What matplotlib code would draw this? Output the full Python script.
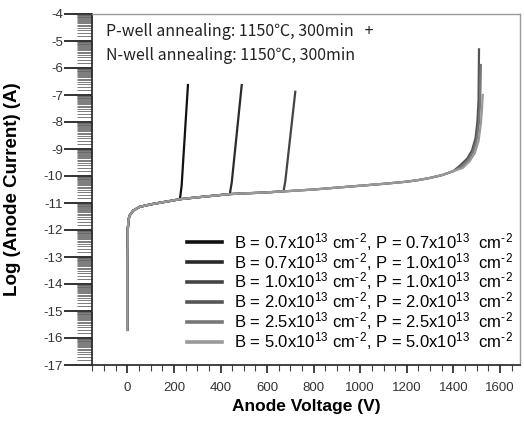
"""Anode I-V breakdown curves for several B/P implant doses."""

import numpy as np
import matplotlib

matplotlib.use("Agg")
import matplotlib.pyplot as plt

plt.rcParams["font.family"] = ["Liberation Sans", "DejaVu Sans"]
plt.rcParams["mathtext.default"] = "regular"

# shared leakage branch (V, log10 I)
leak_v = [0, 0, 2, 5, 11, 25, 54, 100, 140, 180, 225, 300, 370, 440, 510, 570,
          671, 800, 900, 1000, 1100, 1200, 1250, 1300, 1350, 1400]
leak_i = [-15.7, -13.2, -11.95, -11.6, -11.44, -11.28, -11.14, -11.05, -10.99,
          -10.93, -10.86, -10.79, -10.73, -10.67, -10.64, -10.62, -10.57, -10.5,
          -10.43, -10.36, -10.29, -10.21, -10.15, -10.07, -9.97, -9.82]

# breakdown branches
bd1_v = [228, 233, 260]
bd1_i = [-10.7, -10.35, -6.63]
bd2_v = [442, 448, 491]
bd2_i = [-10.55, -10.25, -6.63]
bd3_v = [672, 678, 721]
bd3_i = [-10.5, -10.2, -6.88]
bd4_v = [1430, 1460, 1480, 1495, 1503, 1508, 1510]
bd4_i = [-9.6, -9.35, -9.05, -8.6, -8.0, -7.2, -5.31]
bd5_v = [1435, 1465, 1485, 1500, 1510, 1515, 1518]
bd5_i = [-9.65, -9.4, -9.1, -8.65, -8.0, -7.2, -5.89]
bd6_v = [1440, 1470, 1492, 1508, 1518, 1523, 1526]
bd6_i = [-9.7, -9.45, -9.15, -8.7, -8.05, -7.5, -7.0]

# cut-off index on the leakage branch for each curve
cut = [10, 13, 16, 25, 25, 25]
branches = [(bd1_v, bd1_i), (bd2_v, bd2_i), (bd3_v, bd3_i),
            (bd4_v, bd4_i), (bd5_v, bd5_i), (bd6_v, bd6_i)]

dose_b = ["0.7", "0.7", "1.0", "2.0", "2.5", "5.0"]
dose_p = ["0.7", "1.0", "1.0", "2.0", "2.5", "5.0"]
colors = ["#111111", "#2a2a2a", "#444444", "#555555", "#777777", "#999999"]

x_ticks = list(range(0, 1601, 200))
y_ticks = list(range(-17, -3))

fig = plt.figure(figsize=(5.24, 4.25), dpi=100)
ax = fig.add_axes([92 / 524, 60 / 425, 428 / 524, 351 / 425])

for k in range(6):
    bv, bi = branches[k]
    v = leak_v[: cut[k] + 1] + bv
    i = leak_i[: cut[k] + 1] + bi
    lbl = ("B = %sx10$^{13}$ cm$^{\u2010\u200a2}$, P = %sx10$^{13}$  cm$^{\u2010\u200a2}$"
           % (dose_b[k], dose_p[k]))
    ax.plot(v, i, color=colors[k], lw=1.6, label=lbl, solid_joinstyle="round")

ax.set_xlim(-152, 1686)
ax.set_ylim(-17, -4)

ax.set_xticks(x_ticks)
ax.set_xticklabels([str(t) for t in x_ticks])
ax.set_xticks(np.arange(-150, 1690, 50), minor=True)
ax.set_yticks(y_ticks)
ax.set_yticklabels([str(t) for t in y_ticks])
minor_y = [n + np.log10(m) for n in range(-17, -4) for m in np.arange(1.5, 10, 0.5)]
ax.set_yticks(minor_y, minor=True)

ax.tick_params(axis="x", which="major", length=6, width=1.2, colors="#222222",
               labelsize=9.5, labelcolor="#333333", pad=6)
ax.tick_params(axis="x", which="minor", length=4, width=0.8, colors="#444444")
ax.tick_params(axis="y", which="major", length=20, width=1.3, colors="#222222",
               labelsize=9.5, labelcolor="#333333", pad=1)
ax.tick_params(axis="y", which="minor", length=11, width=0.6, colors="#666666")

for side in ("left", "bottom"):
    ax.spines[side].set_color("#222222")
    ax.spines[side].set_linewidth(1.2)
for side in ("top", "right"):
    ax.spines[side].set_color("#999999")
    ax.spines[side].set_linewidth(1.0)

ax.set_xlabel("Anode Voltage (V)", fontsize=12.5, fontweight="bold", labelpad=4)
ax.set_ylabel("Log (Anode Current) (A)", fontsize=13.5, fontweight="bold")
ax.yaxis.set_label_coords(-0.166, 0.5)

cjk = ["Noto Sans CJK SC", "DejaVu Sans"]
ax.text(0.033, 0.949, "P-well annealing: 1150\u2103, 300min   +", transform=ax.transAxes,
        ha="left", va="center", fontsize=11.5, color="#222222", family=cjk)
ax.text(0.033, 0.883, "N-well annealing: 1150\u2103, 300min", transform=ax.transAxes,
        ha="left", va="center", fontsize=11.5, color="#222222", family=cjk)

leg = ax.legend(loc="lower right", bbox_to_anchor=(1.008, 0.008), frameon=False,
                fontsize=12, handlelength=2.1, handletextpad=0.7, labelspacing=-0.12,
                borderaxespad=0.2)
for h in leg.get_lines():
    h.set_linewidth(2.6)

fig.savefig("out.png", dpi=100)
